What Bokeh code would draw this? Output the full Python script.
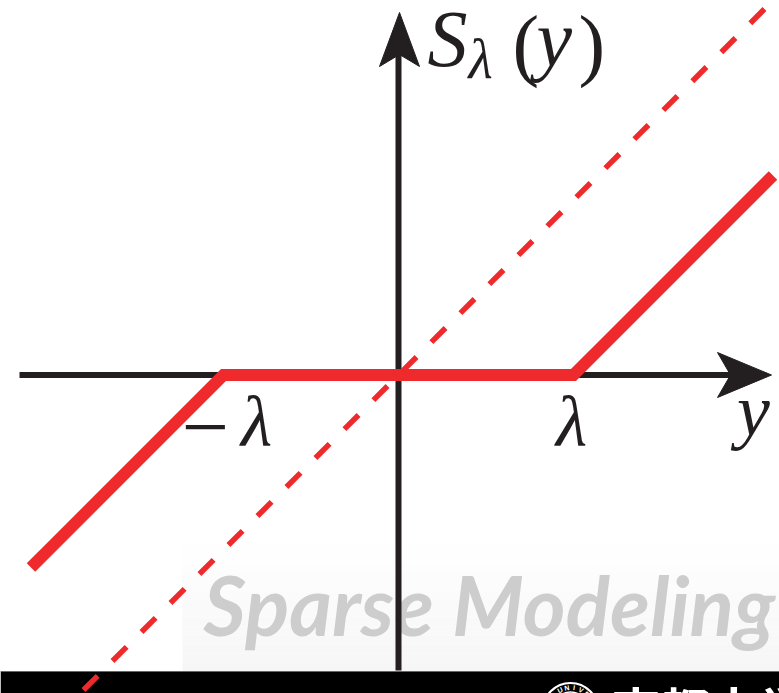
import math
from bokeh.plotting import figure
from bokeh.models import Range1d
from bokeh.core.properties import value
from bokeh.embed import file_html
from bokeh.resources import INLINE

# Soft-thresholding operator S_lambda(y), with y measured in units of lambda
y_in = [-2.10, -1.0, 1.0, 2.14]
s_out = [-1.10, 0.0, 0.0, 1.14]
# Identity line S(y) = y, shown dashed for comparison
ident_y = [-1.80, 2.25]
ident_s = [-1.80, 2.25]
# Threshold ticks on the horizontal axis
lam_ticks = [-1.0, 1.0]

W, H = 779, 693
SCALE = 175.0          # pixels per lambda
OX, OY = 398.0, 374.5  # origin position on the page


def dx(px):
    return (px - OX) / SCALE


def dy(py):
    return (OY - py) / SCALE


def base(py, size):
    # the svg text baseline lands about 0.36 em below the anchor; compensate
    return dy(py - 0.36 * size)


RED = "#EE2A2C"
INK = "#231F20"
SERIF = value("Liberation Serif")

p = figure(width=W, height=H, output_backend="svg", toolbar_location=None,
           x_range=Range1d(dx(0), dx(W)), y_range=Range1d(dy(H), dy(0)),
           x_axis_location=None, y_axis_location=None, min_border=0,
           outline_line_color=None, background_fill_color="white",
           border_fill_color="white")
p.grid.visible = False

# light banner behind the watermark, fading to grey at the bottom
n = 14
top, bot = 545.0, 671.0
for i in range(n):
    t0 = top + (bot - top) * i / n
    t1 = top + (bot - top) * (i + 1) / n
    g = int(round(255 - 9 * (i + 1) / n))
    p.quad(left=dx(182), right=dx(W), top=dy(t0), bottom=dy(t1),
           fill_color=(g, g, min(g + 1, 255)), line_color=None)

wm = 82
p.text(x=[dx(203)], y=[base(633, wm)], text=["Sparse Modeling"],
       text_font=value("Lato"), text_font_style="bold italic",
       text_font_size=f"{wm}px", text_color="#CDCDCD", text_align="left",
       text_baseline="alphabetic")

# footer bar
p.quad(left=dx(0), right=dx(W), top=dy(671), bottom=dy(H + 5),
       fill_color="black", line_color=None)
p.line([dx(0), dx(W)], [dy(671), dy(671)], line_color="#666666", line_width=1)

# university seal
cx, cy = 570.0, 710.0
p.circle(x=[dx(cx)], y=[dy(cy)], radius=27.5 / SCALE, fill_color=None,
         line_color="white", line_width=2.2)
p.circle(x=[dx(cx)], y=[dy(cy)], radius=18.5 / SCALE, fill_color=None,
         line_color="white", line_width=1.4)
seal = "KYOTO UNIVERSITY"
for k, ch in enumerate(seal):
    a = math.radians(90 - (k - 7.5) * 18)
    r = 23.0
    p.text(x=[dx(cx + r * math.cos(a))], y=[dy(cy - r * math.sin(a))], text=[ch],
           angle=a - math.pi / 2, text_font=value("Liberation Sans"),
           text_font_style="bold", text_font_size="7px", text_color="white",
           text_align="center", text_baseline="middle")
jp = 49
p.text(x=[dx(611)], y=[base(725, jp)], text=["京都大学"],
       text_font=value("Noto Sans CJK JP"), text_font_style="bold",
       text_font_size=f"{jp}px", text_color="white", text_align="left",
       text_baseline="alphabetic")

# coordinate axes with arrowheads
p.line([dx(19), dx(740)], [0, 0], line_color=INK, line_width=6)
p.line([0, 0], [dy(670), dy(40)], line_color=INK, line_width=6)
p.patch([dx(771), dx(717), dx(730), dx(717)],
        [dy(374.5), dy(352), dy(374.5), dy(397)],
        fill_color=INK, line_color=INK, line_width=1)
p.patch([dx(399), dx(379), dx(399), dx(419)],
        [dy(12), dy(66), dy(54), dy(66)],
        fill_color=INK, line_color=INK, line_width=1)

# identity line and the soft-threshold curve
p.line(ident_y, ident_s, line_color=RED, line_width=5.5, line_dash="20 21",
       line_cap="butt")
p.line(y_in, s_out, line_color=RED, line_width=12, line_join="miter",
       line_cap="butt")

# axis labels
big = 80
p.text(x=[dx(427)], y=[base(67, big)], text=["S"], text_font=SERIF,
       text_font_style="italic", text_font_size=f"{big}px", text_color=INK,
       text_baseline="alphabetic")
sub = 56
p.text(x=[dx(468)], y=[base(79, sub)], text=["λ"], text_font=SERIF,
       text_font_style="italic", text_font_size=f"{sub}px", text_color=INK,
       text_baseline="alphabetic")
p.text(x=[dx(512)], y=[base(72, big)], text=["("], text_font=SERIF,
       text_font_size=f"{big}px", text_color=INK, text_baseline="alphabetic")
p.text(x=[dx(536)], y=[base(67, big)], text=["y"], text_font=SERIF,
       text_font_style="italic", text_font_size=f"{big}px", text_color=INK,
       text_baseline="alphabetic")
p.text(x=[dx(578)], y=[base(72, big)], text=[")"], text_font=SERIF,
       text_font_size=f"{big}px", text_color=INK, text_baseline="alphabetic")

lab = 72
minus = 84
p.text(x=[lam_ticks[0] - 18 / SCALE], y=[base(457, minus)], text=["−"],
       text_font=SERIF, text_font_size=f"{minus}px", text_color=INK,
       text_align="center", text_baseline="alphabetic")
p.text(x=[lam_ticks[0] + 33 / SCALE], y=[base(447, lab)], text=["λ"],
       text_font=SERIF, text_font_style="italic", text_font_size=f"{lab}px",
       text_color=INK, text_align="center", text_baseline="alphabetic")
p.text(x=[lam_ticks[1] - 2 / SCALE], y=[base(447, lab)], text=["λ"],
       text_font=SERIF, text_font_style="italic", text_font_size=f"{lab}px",
       text_color=INK, text_align="center", text_baseline="alphabetic")
p.text(x=[dx(753)], y=[base(436, 74)], text=["y"], text_font=SERIF,
       text_font_style="italic", text_font_size="74px", text_color=INK,
       text_align="center", text_baseline="alphabetic")

open("out.html", "w").write(file_html(p, INLINE))
